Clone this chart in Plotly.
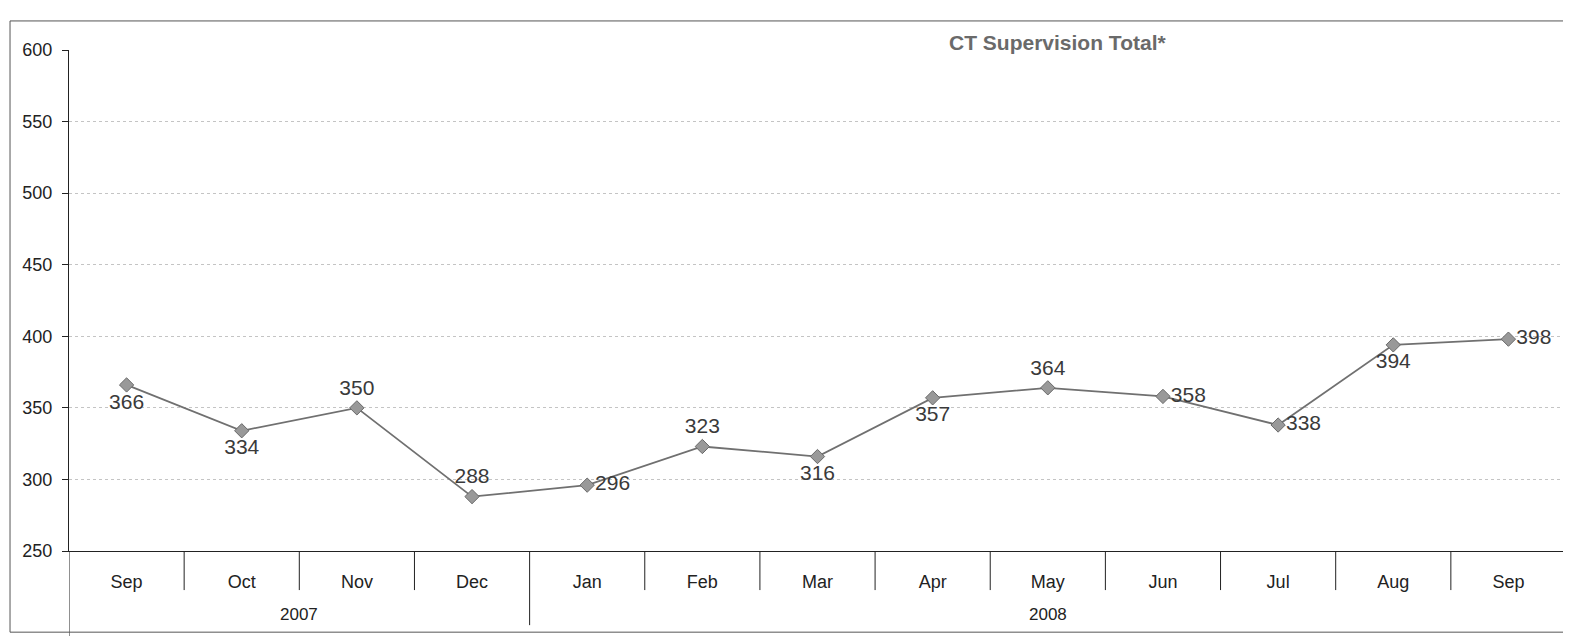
"""
CT Supervision Total - line chart with month / year category table
"""
import plotly.graph_objects as go

# Data
years = ['2007'] * 4 + ['2008'] * 9
months = ['Sep', 'Oct', 'Nov', 'Dec', 'Jan', 'Feb', 'Mar', 'Apr', 'May',
          'Jun', 'Jul', 'Aug', 'Sep']
totals = [366, 334, 350, 288, 296, 323, 316, 357, 364, 358, 338, 394, 398]

# Where each data label sits relative to its marker
label_pos = ['bottom center', 'bottom center', 'top center', 'top center',
             'middle right', 'top center', 'bottom center', 'bottom center',
             'top center', 'middle right', 'middle right', 'bottom center',
             'middle right']

FONT = 'Liberation Sans, Arial, sans-serif'
INK = '#222'

# unique category keys (month repeats across years)
cats = [f'{m} {y}' for m, y in zip(months, years)]
n = len(cats)

fig = go.Figure()

fig.add_trace(go.Scatter(
    x=cats,
    y=totals,
    mode='lines+markers+text',
    line=dict(color='#707070', width=1.8),
    marker=dict(symbol='diamond', size=11, color='#999999',
                line=dict(color='#6a6a6a', width=1)),
    text=[str(v) for v in totals],
    textposition=label_pos,
    textfont=dict(family=FONT, size=21, color='#3a3a3a'),
    cliponaxis=False,
    showlegend=False,
))

# category table: short lines between months, long ones between years
shapes = []
for i in range(1, n):
    new_year = years[i] != years[i - 1]
    shapes.append(dict(type='line', xref='x', yref='paper',
                       x0=i - 0.5, x1=i - 0.5, y0=0,
                       y1=-0.148 if new_year else -0.078,
                       line=dict(color=INK, width=1)))
for edge in (-0.5, n - 0.5):
    shapes.append(dict(type='line', xref='x', yref='paper',
                       x0=edge, x1=edge, y0=0, y1=-0.17,
                       line=dict(color=INK, width=1)))
# outer frame of the chart object
shapes.append(dict(type='rect', xref='paper', yref='paper',
                   x0=-0.0394, x1=1.01, y0=-0.162, y1=1.058,
                   line=dict(color='#555', width=1)))

# year labels centred under their months
annotations = []
for yr in dict.fromkeys(years):
    idx = [i for i, y in enumerate(years) if y == yr]
    annotations.append(dict(
        text=yr, xref='x', yref='paper',
        x=(idx[0] + idx[-1]) / 2, y=-0.126,
        xanchor='center', yanchor='middle', showarrow=False,
        font=dict(family=FONT, size=17, color=INK),
    ))
annotations.append(dict(
    text='<b>CT Supervision Total*</b>',
    xref='paper', yref='paper', x=0.66, y=1.014,
    xanchor='center', yanchor='middle', showarrow=False,
    font=dict(family=FONT, size=21, color='#6a6a6a'),
))

# the page body adds an 8px margin, so the figure is 8px smaller
fig.update_layout(
    width=1563,
    height=628,
    paper_bgcolor='white',
    plot_bgcolor='white',
    margin=dict(l=61, r=5, t=42, b=85),
    font=dict(family=FONT, color=INK),
    xaxis=dict(
        type='category',
        range=[-0.5, n - 0.5],
        tickvals=cats,
        ticktext=months,
        showline=True,
        linecolor=INK,
        linewidth=1,
        showgrid=False,
        ticks='',
        ticklabelstandoff=14,
        tickfont=dict(size=18, color=INK),
        automargin=False,
    ),
    yaxis=dict(
        range=[250, 600],
        dtick=50,
        showline=True,
        linecolor=INK,
        linewidth=1,
        ticks='outside',
        ticklen=6,
        tickcolor=INK,
        ticklabelstandoff=6,
        tickfont=dict(size=18, color=INK),
        showgrid=True,
        gridcolor='#c4c4c4',
        griddash='dot',
        gridwidth=1,
        zeroline=False,
        automargin=False,
    ),
    annotations=annotations,
    shapes=shapes,
)

fig.write_html("out.html")
